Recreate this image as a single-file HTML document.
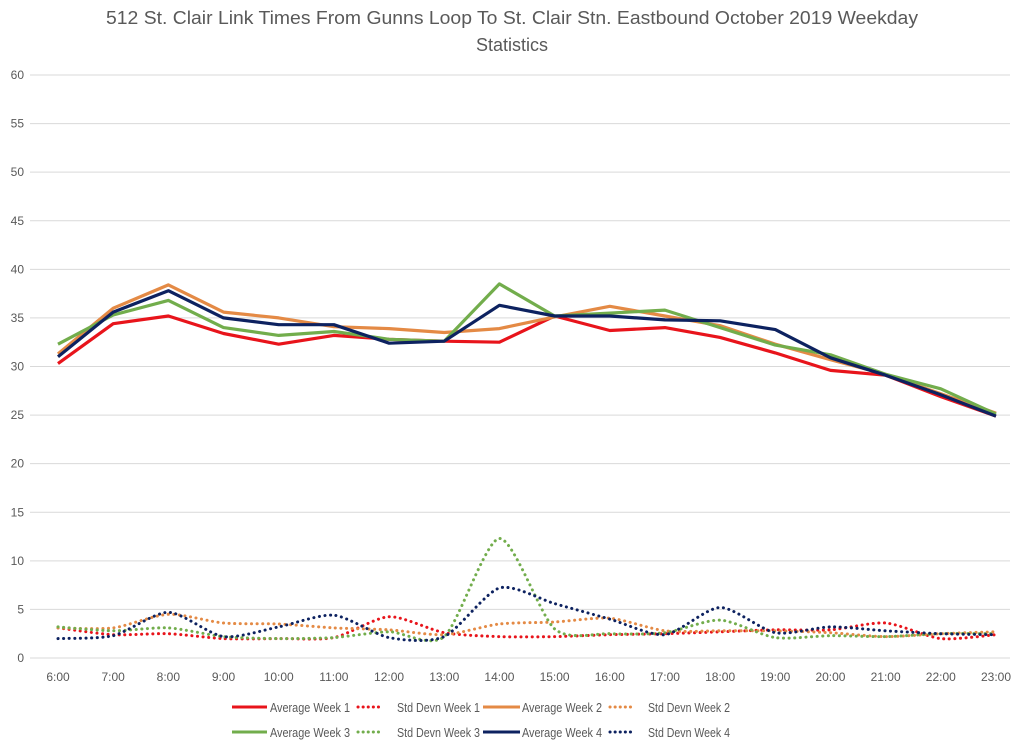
<!DOCTYPE html>
<html><head><meta charset="utf-8"><style>
body{margin:0;background:#fff;font-family:"Liberation Sans",sans-serif;}
svg text{font-family:"Liberation Sans",sans-serif;fill:#595959;}
</style></head><body>
<svg id="chart" width="1024" height="749">
<text x="512" y="24" text-anchor="middle" font-size="18" textLength="812" lengthAdjust="spacingAndGlyphs">512 St. Clair Link Times From Gunns Loop To St. Clair Stn. Eastbound October 2019 Weekday</text>
<text x="512" y="51" text-anchor="middle" font-size="18" textLength="72" lengthAdjust="spacingAndGlyphs">Statistics</text>
<g id="grid"></g><g id="series"></g><g id="legend"></g>
</svg>
<script>
const categories=["6:00","7:00","8:00","9:00","10:00","11:00","12:00","13:00","14:00","15:00","16:00","17:00","18:00","19:00","20:00","21:00","22:00","23:00"];
const yTicks=[0,5,10,15,20,25,30,35,40,45,50,55,60];
const avgWeek1=[30.3,34.4,35.2,33.4,32.3,33.2,32.8,32.6,32.5,35.2,33.7,34.0,33.0,31.4,29.6,29.1,26.9,24.9];
const sdWeek1=[3.1,2.4,2.5,2.0,2.0,2.1,4.25,2.6,2.2,2.2,2.4,2.5,2.7,2.9,2.9,3.6,2.0,2.4];
const avgWeek2=[31.3,36.0,38.4,35.6,35.0,34.1,33.9,33.5,33.9,35.1,36.2,35.2,34.2,32.3,30.7,29.2,27.2,25.2];
const sdWeek2=[3.1,3.1,4.5,3.6,3.5,3.1,2.9,2.4,3.5,3.7,4.1,2.8,2.8,2.8,2.6,2.2,2.5,2.7];
const avgWeek3=[32.3,35.3,36.8,34.0,33.2,33.6,32.8,32.6,38.5,35.2,35.5,35.8,34.0,32.2,31.2,29.2,27.7,25.1];
const sdWeek3=[3.2,2.8,3.1,2.2,2.0,2.1,2.7,2.2,12.3,3.0,2.5,2.6,3.9,2.1,2.3,2.2,2.5,2.5];
const avgWeek4=[31.0,35.6,37.8,35.0,34.3,34.3,32.4,32.6,36.3,35.2,35.2,34.8,34.7,33.8,30.9,29.1,27.1,24.9];
const sdWeek4=[2.0,2.3,4.7,2.2,3.2,4.4,2.1,2.2,7.2,5.6,4.0,2.4,5.2,2.6,3.2,2.8,2.5,2.4];

const NS="http://www.w3.org/2000/svg";
const x0=58,x1=996,yBase=658,yTop=75;
const xScale=i=>x0+i*(x1-x0)/(categories.length-1);
const yScale=v=>yBase-v*(yBase-yTop)/60;
function mk(tag,attrs,parent){const e=document.createElementNS(NS,tag);for(const k in attrs)e.setAttribute(k,attrs[k]);parent.appendChild(e);return e;}
const grid=document.getElementById('grid');
yTicks.forEach(t=>{
  const l=mk('line',{x1:30,x2:1010,y1:yScale(t),y2:yScale(t),stroke:'#d9d9d9','stroke-width':1},grid);
  
  
  const tx=mk('text',{x:24,y:yScale(t)+4,'text-anchor':'end','font-size':12},grid);
  tx.textContent=t;
  
  
});
categories.forEach((c,i)=>{
  const tx=mk('text',{x:xScale(i),y:681,'text-anchor':'middle','font-size':12},grid);
  tx.textContent=c;
  
  
});
function straight(vals){return vals.map((v,i)=>(i?'L':'M')+xScale(i).toFixed(1)+' '+yScale(v).toFixed(1)).join(' ');}
function smooth(vals){
  const p=vals.map((v,i)=>[xScale(i),yScale(v)]);
  let d='M'+p[0][0]+' '+p[0][1];
  for(let i=0;i<p.length-1;i++){
    const a=p[Math.max(0,i-1)],b=p[i],c=p[i+1],e=p[Math.min(p.length-1,i+2)];
    const k=8;
    const c1=[b[0]+(c[0]-a[0])/k,b[1]+(c[1]-a[1])/k],c2=[c[0]-(e[0]-b[0])/k,c[1]-(e[1]-b[1])/k];
    d+=` C${c1[0].toFixed(1)} ${c1[1].toFixed(1)} ${c2[0].toFixed(1)} ${c2[1].toFixed(1)} ${c[0].toFixed(1)} ${c[1].toFixed(1)}`;
  }
  return d;
}
const series=[
 {name:'Average Week 1',vals:avgWeek1,color:'#e8141b',dot:false,id:'avg-week-1'},
 {name:'Std Devn Week 1',vals:sdWeek1,color:'#e8141b',dot:true,id:'sd-week-1'},
 {name:'Average Week 2',vals:avgWeek2,color:'#e48a45',dot:false,id:'avg-week-2'},
 {name:'Std Devn Week 2',vals:sdWeek2,color:'#e48a45',dot:true,id:'sd-week-2'},
 {name:'Average Week 3',vals:avgWeek3,color:'#72ad4c',dot:false,id:'avg-week-3'},
 {name:'Std Devn Week 3',vals:sdWeek3,color:'#72ad4c',dot:true,id:'sd-week-3'},
 {name:'Average Week 4',vals:avgWeek4,color:'#0d2260',dot:false,id:'avg-week-4'},
 {name:'Std Devn Week 4',vals:sdWeek4,color:'#0d2260',dot:true,id:'sd-week-4'}];
const sg=document.getElementById('series');
series.filter(s=>s.dot).concat(series.filter(s=>!s.dot)).forEach(s=>{
  const attrs={d:s.dot?smooth(s.vals):straight(s.vals),fill:'none',stroke:s.color,'stroke-width':s.dot?3:3.2,'stroke-linejoin':'round'};
  if(s.dot){attrs['stroke-dasharray']='0.1 5.5';attrs['stroke-linecap']='round';}
  const p=mk('path',attrs,sg);
  
  
});
const lg=document.getElementById('legend');
const lineX=[232,358,483,610],lineW=[35,25,37,24],textX=[270,397,522,648],textW=[80,83,80,82];
series.forEach((s,i)=>{
  const row=Math.floor(i/4),col=i%4,y=707+row*25,x=lineX[col];
  const g=mk('g',{},lg);
  
  
  const a={x1:x,x2:x+lineW[col],y1:y,y2:y,stroke:s.color,'stroke-width':3};
  if(s.dot){a['stroke-dasharray']='0.1 5';a['stroke-linecap']='round';}
  mk('line',a,g);
  const t=mk('text',{x:textX[col],y:y+5,'font-size':13,textLength:textW[col],lengthAdjust:'spacingAndGlyphs'},g);
  t.textContent=s.name;
});
</script>
</body></html>
